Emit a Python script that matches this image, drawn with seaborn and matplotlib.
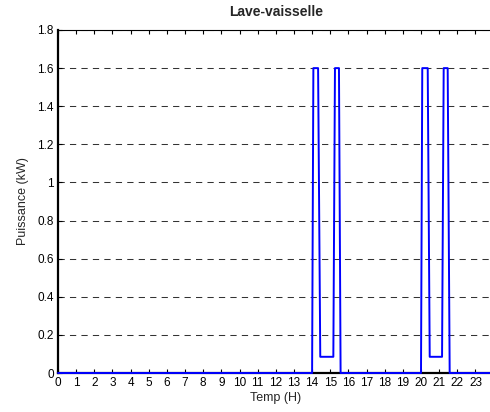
import pandas as pd
import seaborn as sns
import matplotlib.pyplot as plt

# Lave-vaisselle power profile (hours, kW)
temps = [0, 14.0, 14.07, 14.33, 14.45, 15.17, 15.26, 15.48, 15.57,
         20.0, 20.07, 20.37, 20.48, 21.16, 21.25, 21.47, 21.58, 24]
puissance = [0, 0, 1.6, 1.6, 0.085, 0.085, 1.6, 1.6, 0,
             0, 1.6, 1.6, 0.085, 0.085, 1.6, 1.6, 0, 0]
x_ticks = list(range(0, 24))
y_ticks = [0, 0.2, 0.4, 0.6, 0.8, 1, 1.2, 1.4, 1.6, 1.8]
y_labels = ['0', '0.2', '0.4', '0.6', '0.8', '1', '1.2', '1.4', '1.6', '1.8']

df = pd.DataFrame({'temps': temps, 'puissance': puissance})

sns.set_style('white')
plt.rcParams['font.family'] = ['Liberation Sans', 'DejaVu Sans']

fig = plt.figure(figsize=(4.9, 4.12), dpi=100)
ax = fig.add_axes([58 / 490, 39 / 412, 435.6 / 490, 343 / 412])

sns.lineplot(data=df, x='temps', y='puissance', ax=ax, color='#0000ff',
             linewidth=1.4, zorder=5, clip_on=False)

ax.set_xlim(0, 24)
ax.set_ylim(0, 1.8)
ax.set_xticks(x_ticks)
ax.set_yticks(y_ticks)
ax.set_yticklabels(y_labels)

# dashed horizontal grid
ax.yaxis.grid(True, color='0.2', linestyle=(0, (6, 5)), linewidth=0.75)
ax.xaxis.grid(False)

ax.tick_params(axis='both', direction='in', length=3, width=0.8,
               labelsize=8.5, colors='black', pad=3)
ax.tick_params(axis='x', top=True, bottom=True)
ax.tick_params(axis='y', left=True)

for side in ['left', 'bottom']:
    ax.spines[side].set_linewidth(1.6)
    ax.spines[side].set_color('black')
ax.spines['top'].set_linewidth(0.8)
ax.spines['top'].set_color('black')
ax.spines['right'].set_visible(False)

ax.set_title('Lave-vaisselle', fontsize=10, fontweight='bold', pad=10)
ax.set_xlabel('Temp (H)', fontsize=9, labelpad=2)
ax.set_ylabel('Puissance (kW)', fontsize=9, labelpad=6)

fig.savefig('out.png', dpi=100)
